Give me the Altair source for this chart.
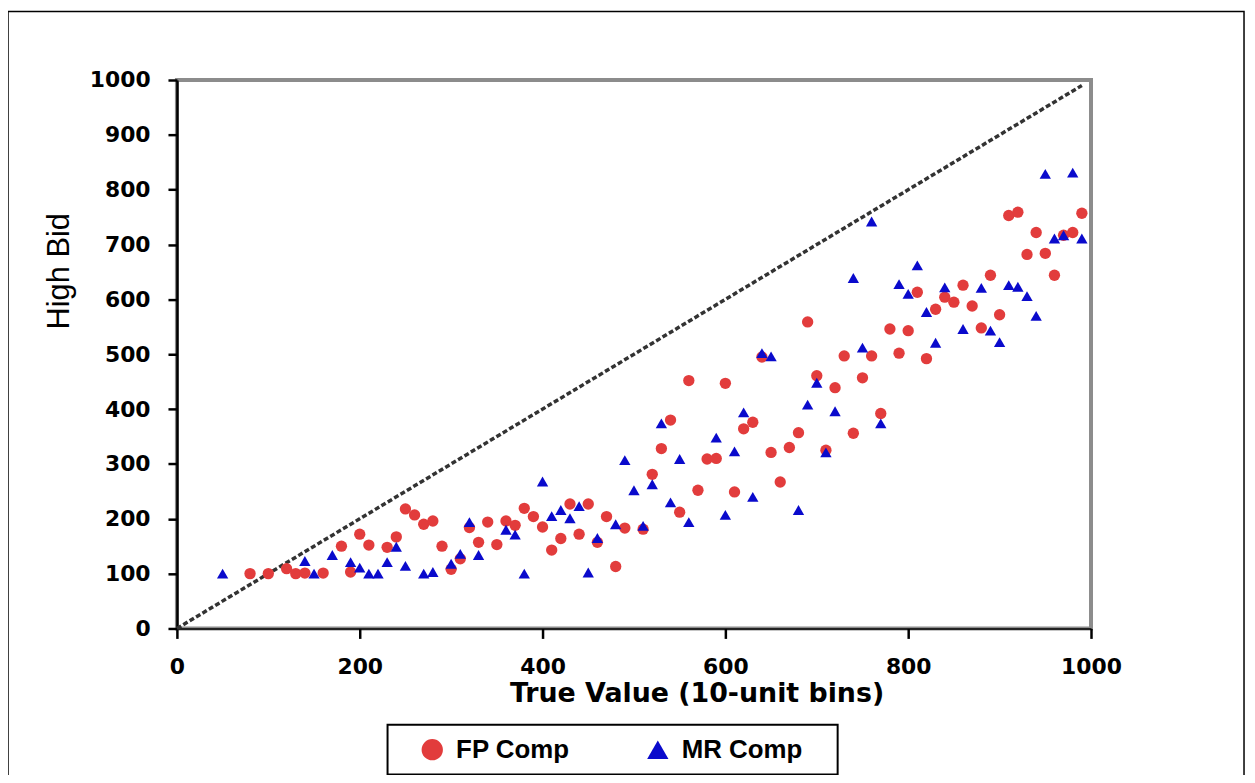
import altair as alt
import pandas as pd

# FP Comp (red circles)
fp_x = [80, 100, 120, 130, 140, 160, 180, 190, 200, 210, 230, 240, 250, 260, 270, 280, 290, 300,
        310, 320, 330, 340, 350, 360, 370, 380, 390, 400, 410, 420, 430, 440, 450, 460, 470, 480,
        490, 510, 520, 530, 540, 550, 560, 570, 580, 590, 600, 610, 620, 630, 640, 650, 660, 670,
        680, 690, 700, 710, 720, 730, 740, 750, 760, 770, 780, 790, 800, 810, 820, 830, 840, 850,
        860, 870, 880, 890, 900, 910, 920, 930, 940, 950, 960, 970, 980, 990]
fp_y = [100, 100, 109, 100, 101, 101, 150, 103, 172, 152, 148, 167, 218, 207, 190, 196, 150, 108,
        127, 184, 157, 194, 153, 196, 188, 219, 204, 185, 143, 164, 227, 172, 227, 157, 204, 113,
        183, 181, 281, 328, 380, 212, 452, 252, 309, 310, 447, 249, 364, 376, 495, 321, 267, 330,
        357, 559, 461, 325, 439, 497, 356, 457, 497, 392, 546, 502, 543, 613, 492, 582, 604, 595,
        626, 588, 548, 644, 572, 753, 759, 682, 722, 684, 644, 717, 722, 757]

# MR Comp (blue triangles)
mr_x = [50, 140, 150, 170, 190, 200, 210, 220, 230, 240, 250, 270, 280, 300, 310, 320, 330, 360,
        370, 380, 400, 410, 420, 430, 440, 450, 460, 480, 490, 500, 510, 520, 530, 540, 550, 560,
        590, 600, 610, 620, 630, 640, 650, 680, 690, 700, 710, 720, 740, 750, 760, 770, 790, 800,
        810, 820, 830, 840, 860, 880, 890, 900, 910, 920, 930, 940, 950, 960, 970, 980, 990]
mr_y = [100, 123, 100, 134, 121, 111, 100, 100, 121, 149, 114, 100, 103, 118, 136, 194, 134, 180,
        171, 100, 268, 205, 216, 201, 223, 102, 165, 190, 307, 252, 187, 263, 374, 230, 309, 194,
        348, 207, 323, 394, 240, 502, 496, 216, 408, 448, 321, 396, 639, 512, 742, 374, 628, 610,
        662, 577, 521, 622, 546, 621, 543, 522, 626, 623, 606, 570, 829, 711, 717, 831, 711]

series_names = ["FP Comp", "MR Comp"]
series_colors = ["#e23c3c", "#0a0acc"]
series_shapes = ["circle", "triangle-up"]

diag_x = [0, 990]
x_ticks = [0, 200, 400, 600, 800, 1000]
y_ticks = [0, 100, 200, 300, 400, 500, 600, 700, 800, 900, 1000]

pts = pd.concat([
    pd.DataFrame({"x": fp_x, "y": fp_y, "series": series_names[0]}),
    pd.DataFrame({"x": mr_x, "y": mr_y, "series": series_names[1]}),
], ignore_index=True)
diag = pd.DataFrame({"x": diag_x, "y": diag_x})

W, H = 920, 552

xscale = alt.Scale(domain=[0, 1000], nice=False)
yscale = alt.Scale(domain=[0, 1000], nice=False)

frame = alt.Chart(alt.Data(values=[{}])).mark_rect(
    fill=None, stroke="#000000", strokeWidth=1.5
).encode(
    x=alt.value(-170), x2=alt.value(1074), y=alt.value(-69), y2=alt.value(720)
)

line = alt.Chart(diag).mark_line(
    color="#333333", strokeWidth=3.5, strokeDash=[5, 2.5]
).encode(
    x=alt.X("x:Q", scale=xscale,
            axis=alt.Axis(values=x_ticks, format="d", title="True Value (10-unit bins)",
                          titleX=523, titleY=66, titleAlign="center", titleBaseline="middle",
                          titleFont="DejaVu Sans", titleFontSize=27, titleFontWeight="bold",
                          titleColor="#000000",
                          labelFont="DejaVu Sans", labelFontSize=22, labelFontWeight="bold",
                          labelColor="#000000", labelPadding=18, tickSize=10, tickWidth=2.5,
                          tickColor="#000000", domainColor="#000000", domainWidth=1.5,
                          grid=False, labelFlush=False)),
    y=alt.Y("y:Q", scale=yscale,
            axis=alt.Axis(values=y_ticks, format="d", title="High Bid",
                          titleX=-118, titleY=192, titleAlign="center", titleBaseline="middle",
                          titleAngle=-90,
                          titleFont="Liberation Sans", titleFontSize=31, titleFontWeight="normal",
                          titleColor="#000000",
                          labelFont="DejaVu Sans", labelFontSize=22, labelFontWeight="bold",
                          labelColor="#000000", labelPadding=18, tickSize=9, tickWidth=2.5,
                          tickColor="#000000", domainColor="#000000", domainWidth=2.5,
                          grid=False, labelFlush=False)),
)

legend = alt.Legend(title="\u00a0", titleOrient="right", titlePadding=24, titleFontSize=26,
                    orient="none", legendX=212, legendY=649,
                    direction="horizontal",
                    strokeColor="#000000", fillColor="#ffffff", padding=12,
                    symbolSize=460, symbolStrokeWidth=0, labelFont="Liberation Sans",
                    labelFontSize=26, labelFontWeight="bold", labelColor="#000000",
                    labelOffset=11, columnPadding=55, symbolOffset=20)

points = alt.Chart(pts).mark_point(filled=True, opacity=1, size=130).encode(
    x=alt.X("x:Q", scale=xscale),
    y=alt.Y("y:Q", scale=yscale),
    color=alt.Color("series:N", scale=alt.Scale(domain=series_names, range=series_colors),
                    legend=legend),
    shape=alt.Shape("series:N", scale=alt.Scale(domain=series_names, range=series_shapes),
                    legend=legend),
    order=alt.Order("series:N"),
)

chart = alt.layer(frame, line, points).properties(
    width=W, height=H, background="#ffffff",
    autosize=alt.AutoSizeParams(type="none"),
    padding={"left": 170, "top": 70, "right": 157, "bottom": 145},
).configure_view(
    stroke="#8c8c8c", strokeWidth=4
).configure_legend(
    strokeWidth=2
)

chart.save("out.html", embed_options={"renderer": "svg", "actions": False})
